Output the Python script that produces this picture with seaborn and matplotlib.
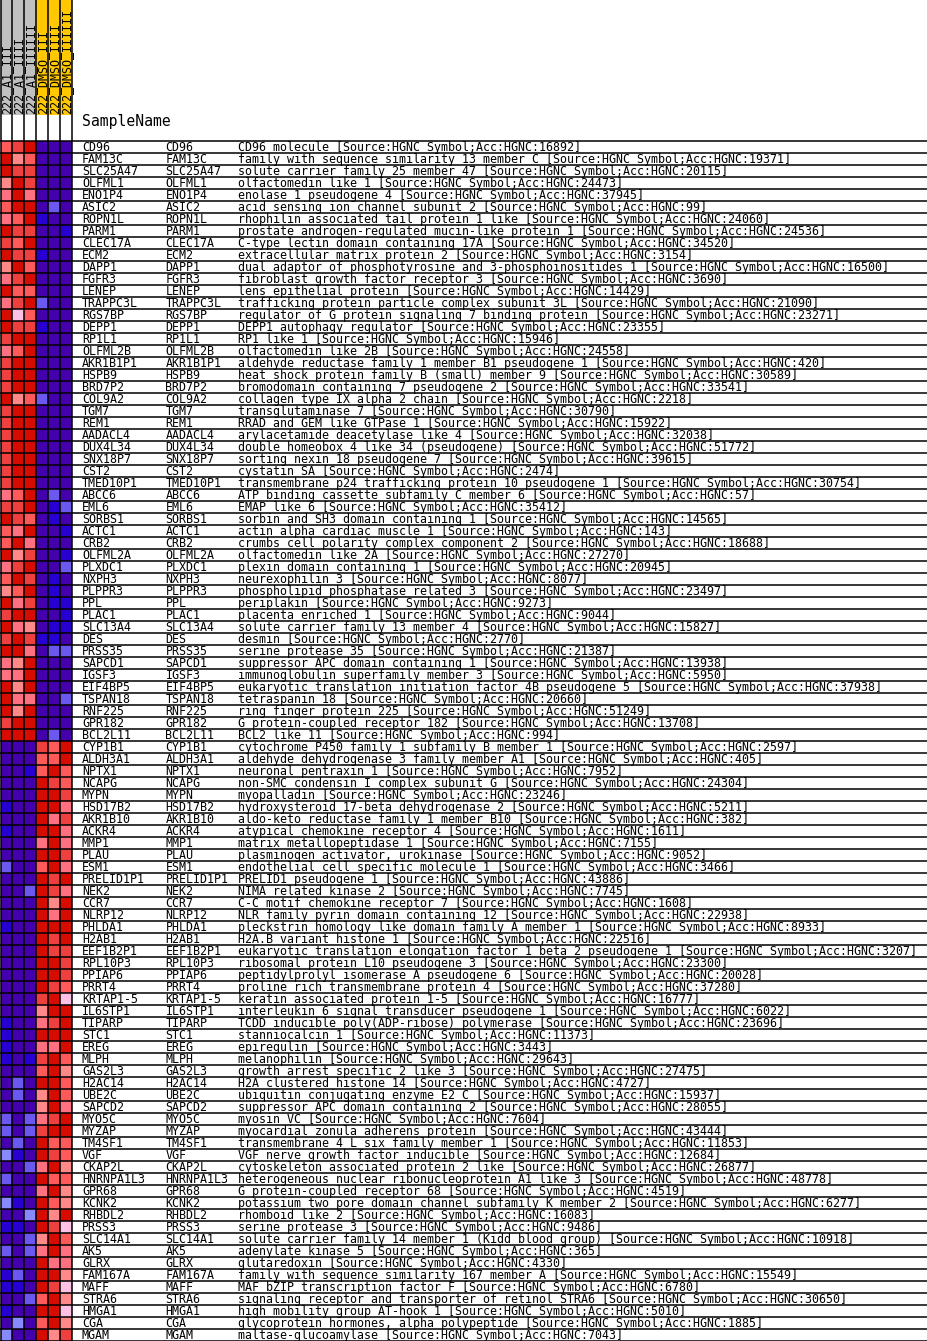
import matplotlib
matplotlib.use('Agg')
import matplotlib.pyplot as plt
from matplotlib.colors import ListedColormap
from matplotlib.patches import Rectangle
import pandas as pd
import seaborn as sns

plt.rcParams['font.family'] = ['DejaVu Sans Mono']

# Samples and their groups (header colour strip)
samples = ['222_A1_III', '222_A1_IIII', '222_A1_IIIIII',
           '222_DMSO_III', '222_DMSO_IIII', '222_DMSO_IIIIII']
sample_groups = ['A1', 'A1', 'A1', 'DMSO', 'DMSO', 'DMSO']

genes = [
    'CD96', 'FAM13C', 'SLC25A47', 'OLFML1', 'ENO1P4', 'ASIC2', 'ROPN1L', 'PARM1',
    'CLEC17A', 'ECM2', 'DAPP1', 'FGFR3', 'LENEP', 'TRAPPC3L', 'RGS7BP', 'DEPP1',
    'RP1L1', 'OLFML2B', 'AKR1B1P1', 'HSPB9', 'BRD7P2', 'COL9A2', 'TGM7', 'REM1',
    'AADACL4', 'DUX4L34', 'SNX18P7', 'CST2', 'TMED10P1', 'ABCC6', 'EML6', 'SORBS1',
    'ACTC1', 'CRB2', 'OLFML2A', 'PLXDC1', 'NXPH3', 'PLPPR3', 'PPL', 'PLAC1',
    'SLC13A4', 'DES', 'PRSS35', 'SAPCD1', 'IGSF3', 'EIF4BP5', 'TSPAN18', 'RNF225',
    'GPR182', 'BCL2L11', 'CYP1B1', 'ALDH3A1', 'NPTX1', 'NCAPG', 'MYPN', 'HSD17B2',
    'AKR1B10', 'ACKR4', 'MMP1', 'PLAU', 'ESM1', 'PRELID1P1', 'NEK2', 'CCR7',
    'NLRP12', 'PHLDA1', 'H2AB1', 'EEF1B2P1', 'RPL10P3', 'PPIAP6', 'PRRT4', 'KRTAP1-5',
    'IL6STP1', 'TIPARP', 'STC1', 'EREG', 'MLPH', 'GAS2L3', 'H2AC14', 'UBE2C',
    'SAPCD2', 'MYO5C', 'MYZAP', 'TM4SF1', 'VGF', 'CKAP2L', 'HNRNPA1L3', 'GPR68',
    'KCNK2', 'RHBDL2', 'PRSS3', 'SLC14A1', 'AK5', 'GLRX', 'FAM167A', 'MAFF',
    'STRA6', 'HMGA1', 'CGA', 'MGAM',
]

descriptions = [
    'CD96 molecule [Source:HGNC Symbol;Acc:HGNC:16892]',
    'family with sequence similarity 13 member C [Source:HGNC Symbol;Acc:HGNC:19371]',
    'solute carrier family 25 member 47 [Source:HGNC Symbol;Acc:HGNC:20115]',
    'olfactomedin like 1 [Source:HGNC Symbol;Acc:HGNC:24473]',
    'enolase 1 pseudogene 4 [Source:HGNC Symbol;Acc:HGNC:37945]',
    'acid sensing ion channel subunit 2 [Source:HGNC Symbol;Acc:HGNC:99]',
    'rhophilin associated tail protein 1 like [Source:HGNC Symbol;Acc:HGNC:24060]',
    'prostate androgen-regulated mucin-like protein 1 [Source:HGNC Symbol;Acc:HGNC:24536]',
    'C-type lectin domain containing 17A [Source:HGNC Symbol;Acc:HGNC:34520]',
    'extracellular matrix protein 2 [Source:HGNC Symbol;Acc:HGNC:3154]',
    'dual adaptor of phosphotyrosine and 3-phosphoinositides 1 [Source:HGNC Symbol;Acc:HGNC:16500]',
    'fibroblast growth factor receptor 3 [Source:HGNC Symbol;Acc:HGNC:3690]',
    'lens epithelial protein [Source:HGNC Symbol;Acc:HGNC:14429]',
    'trafficking protein particle complex subunit 3L [Source:HGNC Symbol;Acc:HGNC:21090]',
    'regulator of G protein signaling 7 binding protein [Source:HGNC Symbol;Acc:HGNC:23271]',
    'DEPP1 autophagy regulator [Source:HGNC Symbol;Acc:HGNC:23355]',
    'RP1 like 1 [Source:HGNC Symbol;Acc:HGNC:15946]',
    'olfactomedin like 2B [Source:HGNC Symbol;Acc:HGNC:24558]',
    'aldehyde reductase family 1 member B1 pseudogene 1 [Source:HGNC Symbol;Acc:HGNC:420]',
    'heat shock protein family B (small) member 9 [Source:HGNC Symbol;Acc:HGNC:30589]',
    'bromodomain containing 7 pseudogene 2 [Source:HGNC Symbol;Acc:HGNC:33541]',
    'collagen type IX alpha 2 chain [Source:HGNC Symbol;Acc:HGNC:2218]',
    'transglutaminase 7 [Source:HGNC Symbol;Acc:HGNC:30790]',
    'RRAD and GEM like GTPase 1 [Source:HGNC Symbol;Acc:HGNC:15922]',
    'arylacetamide deacetylase like 4 [Source:HGNC Symbol;Acc:HGNC:32038]',
    'double homeobox 4 like 34 (pseudogene) [Source:HGNC Symbol;Acc:HGNC:51772]',
    'sorting nexin 18 pseudogene 7 [Source:HGNC Symbol;Acc:HGNC:39615]',
    'cystatin SA [Source:HGNC Symbol;Acc:HGNC:2474]',
    'transmembrane p24 trafficking protein 10 pseudogene 1 [Source:HGNC Symbol;Acc:HGNC:30754]',
    'ATP binding cassette subfamily C member 6 [Source:HGNC Symbol;Acc:HGNC:57]',
    'EMAP like 6 [Source:HGNC Symbol;Acc:HGNC:35412]',
    'sorbin and SH3 domain containing 1 [Source:HGNC Symbol;Acc:HGNC:14565]',
    'actin alpha cardiac muscle 1 [Source:HGNC Symbol;Acc:HGNC:143]',
    'crumbs cell polarity complex component 2 [Source:HGNC Symbol;Acc:HGNC:18688]',
    'olfactomedin like 2A [Source:HGNC Symbol;Acc:HGNC:27270]',
    'plexin domain containing 1 [Source:HGNC Symbol;Acc:HGNC:20945]',
    'neurexophilin 3 [Source:HGNC Symbol;Acc:HGNC:8077]',
    'phospholipid phosphatase related 3 [Source:HGNC Symbol;Acc:HGNC:23497]',
    'periplakin [Source:HGNC Symbol;Acc:HGNC:9273]',
    'placenta enriched 1 [Source:HGNC Symbol;Acc:HGNC:9044]',
    'solute carrier family 13 member 4 [Source:HGNC Symbol;Acc:HGNC:15827]',
    'desmin [Source:HGNC Symbol;Acc:HGNC:2770]',
    'serine protease 35 [Source:HGNC Symbol;Acc:HGNC:21387]',
    'suppressor APC domain containing 1 [Source:HGNC Symbol;Acc:HGNC:13938]',
    'immunoglobulin superfamily member 3 [Source:HGNC Symbol;Acc:HGNC:5950]',
    'eukaryotic translation initiation factor 4B pseudogene 5 [Source:HGNC Symbol;Acc:HGNC:37938]',
    'tetraspanin 18 [Source:HGNC Symbol;Acc:HGNC:20660]',
    'ring finger protein 225 [Source:HGNC Symbol;Acc:HGNC:51249]',
    'G protein-coupled receptor 182 [Source:HGNC Symbol;Acc:HGNC:13708]',
    'BCL2 like 11 [Source:HGNC Symbol;Acc:HGNC:994]',
    'cytochrome P450 family 1 subfamily B member 1 [Source:HGNC Symbol;Acc:HGNC:2597]',
    'aldehyde dehydrogenase 3 family member A1 [Source:HGNC Symbol;Acc:HGNC:405]',
    'neuronal pentraxin 1 [Source:HGNC Symbol;Acc:HGNC:7952]',
    'non-SMC condensin I complex subunit G [Source:HGNC Symbol;Acc:HGNC:24304]',
    'myopalladin [Source:HGNC Symbol;Acc:HGNC:23246]',
    'hydroxysteroid 17-beta dehydrogenase 2 [Source:HGNC Symbol;Acc:HGNC:5211]',
    'aldo-keto reductase family 1 member B10 [Source:HGNC Symbol;Acc:HGNC:382]',
    'atypical chemokine receptor 4 [Source:HGNC Symbol;Acc:HGNC:1611]',
    'matrix metallopeptidase 1 [Source:HGNC Symbol;Acc:HGNC:7155]',
    'plasminogen activator, urokinase [Source:HGNC Symbol;Acc:HGNC:9052]',
    'endothelial cell specific molecule 1 [Source:HGNC Symbol;Acc:HGNC:3466]',
    'PRELID1 pseudogene 1 [Source:HGNC Symbol;Acc:HGNC:43886]',
    'NIMA related kinase 2 [Source:HGNC Symbol;Acc:HGNC:7745]',
    'C-C motif chemokine receptor 7 [Source:HGNC Symbol;Acc:HGNC:1608]',
    'NLR family pyrin domain containing 12 [Source:HGNC Symbol;Acc:HGNC:22938]',
    'pleckstrin homology like domain family A member 1 [Source:HGNC Symbol;Acc:HGNC:8933]',
    'H2A.B variant histone 1 [Source:HGNC Symbol;Acc:HGNC:22516]',
    'eukaryotic translation elongation factor 1 beta 2 pseudogene 1 [Source:HGNC Symbol;Acc:HGNC:3207]',
    'ribosomal protein L10 pseudogene 3 [Source:HGNC Symbol;Acc:HGNC:23300]',
    'peptidylprolyl isomerase A pseudogene 6 [Source:HGNC Symbol;Acc:HGNC:20028]',
    'proline rich transmembrane protein 4 [Source:HGNC Symbol;Acc:HGNC:37280]',
    'keratin associated protein 1-5 [Source:HGNC Symbol;Acc:HGNC:16777]',
    'interleukin 6 signal transducer pseudogene 1 [Source:HGNC Symbol;Acc:HGNC:6022]',
    'TCDD inducible poly(ADP-ribose) polymerase [Source:HGNC Symbol;Acc:HGNC:23696]',
    'stanniocalcin 1 [Source:HGNC Symbol;Acc:HGNC:11373]',
    'epiregulin [Source:HGNC Symbol;Acc:HGNC:3443]',
    'melanophilin [Source:HGNC Symbol;Acc:HGNC:29643]',
    'growth arrest specific 2 like 3 [Source:HGNC Symbol;Acc:HGNC:27475]',
    'H2A clustered histone 14 [Source:HGNC Symbol;Acc:HGNC:4727]',
    'ubiquitin conjugating enzyme E2 C [Source:HGNC Symbol;Acc:HGNC:15937]',
    'suppressor APC domain containing 2 [Source:HGNC Symbol;Acc:HGNC:28055]',
    'myosin VC [Source:HGNC Symbol;Acc:HGNC:7604]',
    'myocardial zonula adherens protein [Source:HGNC Symbol;Acc:HGNC:43444]',
    'transmembrane 4 L six family member 1 [Source:HGNC Symbol;Acc:HGNC:11853]',
    'VGF nerve growth factor inducible [Source:HGNC Symbol;Acc:HGNC:12684]',
    'cytoskeleton associated protein 2 like [Source:HGNC Symbol;Acc:HGNC:26877]',
    'heterogeneous nuclear ribonucleoprotein A1 like 3 [Source:HGNC Symbol;Acc:HGNC:48778]',
    'G protein-coupled receptor 68 [Source:HGNC Symbol;Acc:HGNC:4519]',
    'potassium two pore domain channel subfamily K member 2 [Source:HGNC Symbol;Acc:HGNC:6277]',
    'rhomboid like 2 [Source:HGNC Symbol;Acc:HGNC:16083]',
    'serine protease 3 [Source:HGNC Symbol;Acc:HGNC:9486]',
    'solute carrier family 14 member 1 (Kidd blood group) [Source:HGNC Symbol;Acc:HGNC:10918]',
    'adenylate kinase 5 [Source:HGNC Symbol;Acc:HGNC:365]',
    'glutaredoxin [Source:HGNC Symbol;Acc:HGNC:4330]',
    'family with sequence similarity 167 member A [Source:HGNC Symbol;Acc:HGNC:15549]',
    'MAF bZIP transcription factor F [Source:HGNC Symbol;Acc:HGNC:6780]',
    'signaling receptor and transporter of retinol STRA6 [Source:HGNC Symbol;Acc:HGNC:30650]',
    'high mobility group AT-hook 1 [Source:HGNC Symbol;Acc:HGNC:5010]',
    'glycoprotein hormones, alpha polypeptide [Source:HGNC Symbol;Acc:HGNC:1885]',
    'maltase-glucoamylase [Source:HGNC Symbol;Acc:HGNC:7043]',
]

# Row-relative colour level per cell (0 = lowest / dark blue ... 11 = highest / dark red)
levels = [
    [9, 10, 11, 0, 0, 0], [11, 7, 9, 0, 0, 0], [11, 10, 10, 0, 0, 0], [7, 11, 10, 0, 0, 0],
    [8, 11, 8, 0, 0, 0], [9, 11, 11, 0, 2, 0], [8, 9, 11, 1, 0, 0], [11, 10, 10, 0, 0, 1],
    [10, 9, 11, 0, 0, 0], [11, 10, 10, 1, 0, 0], [7, 11, 9, 0, 0, 0], [8, 10, 11, 0, 0, 0],
    [11, 9, 9, 0, 0, 0], [8, 10, 11, 2, 0, 0], [11, 6, 9, 0, 0, 0], [11, 10, 10, 1, 0, 0],
    [10, 11, 11, 0, 0, 0], [8, 9, 11, 0, 0, 0], [10, 11, 11, 0, 0, 0], [10, 11, 11, 0, 0, 0],
    [10, 11, 11, 0, 0, 0], [11, 7, 9, 2, 0, 0], [10, 11, 11, 0, 0, 0], [10, 11, 11, 0, 0, 0],
    [10, 11, 11, 0, 0, 0], [10, 11, 11, 0, 0, 0], [10, 11, 11, 0, 0, 0], [10, 11, 11, 0, 0, 0],
    [10, 11, 11, 0, 0, 0], [8, 9, 11, 0, 2, 0], [10, 10, 11, 0, 1, 2], [11, 10, 9, 0, 1, 0],
    [9, 8, 11, 0, 0, 1], [9, 11, 8, 0, 0, 0], [11, 7, 10, 0, 0, 1], [8, 10, 11, 0, 0, 2],
    [9, 11, 10, 0, 1, 0], [7, 9, 11, 0, 1, 0], [11, 8, 10, 0, 1, 1], [10, 11, 11, 0, 0, 1],
    [11, 8, 7, 0, 1, 1], [10, 11, 10, 1, 1, 0], [11, 11, 8, 0, 2, 2], [8, 7, 11, 0, 0, 0],
    [8, 8, 11, 0, 0, 0], [11, 7, 11, 0, 0, 0], [11, 8, 8, 0, 0, 2], [11, 7, 11, 0, 0, 0],
    [10, 11, 11, 0, 0, 0], [11, 11, 11, 0, 2, 0],
    [0, 0, 0, 10, 9, 11], [0, 0, 0, 9, 9, 11], [0, 0, 1, 9, 11, 9], [0, 0, 0, 11, 10, 9],
    [0, 0, 0, 11, 11, 10], [1, 0, 0, 11, 11, 8], [0, 0, 0, 11, 8, 10], [1, 0, 0, 11, 11, 8],
    [0, 0, 0, 8, 11, 8], [0, 0, 0, 11, 11, 10], [2, 0, 0, 9, 11, 8], [0, 0, 0, 11, 10, 11],
    [0, 0, 2, 11, 10, 8], [0, 0, 0, 11, 7, 11], [0, 0, 0, 11, 8, 11], [1, 0, 0, 11, 11, 11],
    [0, 0, 0, 11, 10, 11], [0, 0, 0, 11, 10, 10], [0, 0, 0, 11, 11, 10], [0, 0, 0, 11, 11, 10],
    [0, 0, 0, 11, 10, 9], [0, 0, 0, 10, 11, 6], [0, 0, 0, 7, 11, 11], [1, 0, 0, 8, 10, 11],
    [1, 0, 0, 11, 11, 11], [1, 0, 0, 8, 8, 11], [1, 0, 1, 10, 11, 9], [0, 0, 0, 9, 11, 7],
    [0, 2, 0, 11, 11, 9], [0, 2, 0, 7, 11, 9], [0, 0, 0, 7, 11, 8], [2, 0, 2, 8, 10, 11],
    [2, 0, 2, 10, 11, 11], [0, 2, 0, 11, 9, 9], [3, 1, 0, 11, 10, 9], [0, 0, 2, 8, 11, 7],
    [2, 0, 0, 11, 9, 9], [0, 0, 0, 8, 11, 7], [3, 1, 0, 11, 9, 7], [0, 0, 3, 11, 7, 11],
    [1, 1, 0, 11, 10, 6], [0, 0, 2, 7, 11, 9], [2, 0, 2, 8, 11, 8], [0, 0, 0, 11, 8, 8],
    [1, 2, 0, 11, 11, 7], [1, 1, 0, 11, 10, 6], [0, 0, 2, 9, 11, 7], [1, 0, 0, 11, 11, 6],
    [0, 3, 0, 9, 11, 7], [3, 0, 0, 11, 7, 10],
]

# GenePattern style blue -> red palette
palette = ['#4500AD', '#2700D1', '#6B58EF', '#8888FF', '#C7C1FF', '#D5D5FF',
           '#FFC0E5', '#FF8989', '#FF7080', '#FF5A5A', '#EF4040', '#D60C00']
group_colors = {'A1': '#C0C0C0', 'DMSO': '#FFC800'}

W, H = 928, 1341
cell = 12
top = 140.5
left = 0.5
header_h = 115

fig = plt.figure(figsize=(W / 100, H / 100), dpi=100)

hm_ax = fig.add_axes([left / W, (H - top - cell * len(genes)) / H,
                      cell * len(samples) / W, cell * len(genes) / H])
df = pd.DataFrame(levels, index=genes, columns=samples)
sns.heatmap(df, ax=hm_ax, cmap=ListedColormap(palette), vmin=-0.5,
            vmax=len(palette) - 0.5, cbar=False, xticklabels=False, yticklabels=False)
hm_ax.set_xlabel('')
hm_ax.set_ylabel('')

# overlay in pixel coordinates for header, grid lines and row annotations
ov = fig.add_axes([0, 0, 1, 1], facecolor='none')
ov.set_xlim(0, W)
ov.set_ylim(H, 0)
ov.axis('off')

for j, (s, g) in enumerate(zip(samples, sample_groups)):
    ov.add_patch(Rectangle((left + j * cell, 0), cell, header_h, color=group_colors[g], lw=0))
    ov.text(left + (j + 0.5) * cell, header_h - 1.5, s, rotation=90,
            ha='center', va='bottom', fontsize=8.4, color='black')

ov.text(82, 126, 'SampleName', fontsize=10.6, va='baseline')

for i, (g, d) in enumerate(zip(genes, descriptions)):
    yb = top + cell * (i + 1) - 1.5
    ov.text(82, yb, g, fontsize=8.4, va='baseline')
    ov.text(165.5, yb, g, fontsize=8.4, va='baseline')
    ov.text(238.5, yb, d, fontsize=8.4, va='baseline')

ov.hlines([top + cell * i for i in range(len(genes) + 1)], 0, W, color='black', lw=1.1)
ov.vlines([left + cell * j for j in range(len(samples) + 1)], 0, H, color='black', lw=1.1)

fig.savefig('out.png', dpi=100)
plt.close(fig)
